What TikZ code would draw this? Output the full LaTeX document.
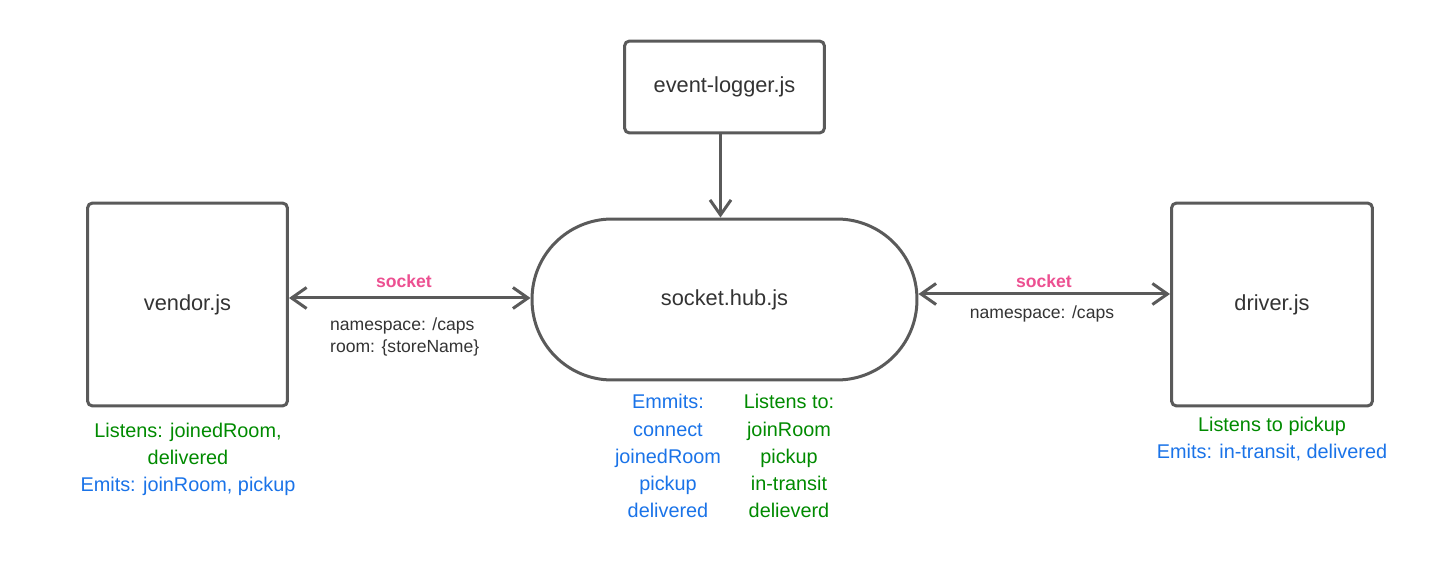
\documentclass[tikz,border=0pt]{standalone}
\usepackage{fontspec}
\setmainfont{Liberation Sans}
\usetikzlibrary{arrows.meta}
\definecolor{edgegray}{RGB}{90,90,90}
\definecolor{txtgray}{RGB}{51,51,51}
\definecolor{sockpink}{RGB}{236,80,145}
\definecolor{lgreen}{RGB}{0,138,0}
\definecolor{eblue}{RGB}{26,115,232}
\tikzset{
	jsfile/.style={draw=edgegray, line width=0.06cm, rounded corners=0.1cm, text=txtgray, font=\fontsize{12.4}{15}\selectfont},
	hubfile/.style={draw=edgegray, line width=0.06cm, rounded corners=1.6cm, text=txtgray, font=\fontsize{12.4}{15}\selectfont, minimum width=7.7cm, minimum height=3.22cm},
	link/.style={draw=edgegray, line width=0.06cm},
	barb/.tip={Straight Barb[length=0.3cm, width=0.42cm]},
	socklbl/.style={text=sockpink, font=\fontsize{10}{12}\selectfont\bfseries},
	nslbl/.style={text=txtgray, font=\fontsize{10}{12.5}\selectfont},
	evlbl/.style={align=center, font=\fontsize{11.3}{15.4}\selectfont}
}

\begin{document}
\begin{tikzpicture}[x=0.02cm, y=-0.02cm]
		%%%%% START %%%%%
		\useasboundingbox (0, 0) rectangle (1441, 577);
		
		\node[jsfile, minimum width=4.0cm, minimum height=1.84cm] (logger) at (724.5, 87) {event-logger.js};
		\node[jsfile, minimum width=4.0cm, minimum height=4.06cm] (vendor) at (187.5, 304.5) {vendor.js};
		\node[jsfile, minimum width=4.02cm, minimum height=4.06cm] (driver) at (1272, 304.5) {driver.js};
		\node[hubfile] (hub) at (724.5, 299.5) {socket.hub.js};
		
		\draw[link, -barb] ([xshift=-0.08cm]logger.south) -- ([xshift=-0.08cm]hub.north);
		\draw[link, barb-barb] ([yshift=0.03cm]vendor.east |- hub.west) -- ([yshift=0.03cm]hub.west);
		\draw[link, barb-barb] ([yshift=0.11cm]hub.east) -- ([yshift=0.11cm]hub.east -| driver.west);
		
		\node[socklbl] (sockl) at (404, 281) {socket};
		\node[nslbl, align=left, anchor=west] (nsl) at (324, 337) {namespace: /caps\\room: \{storeName\}};
		\node[socklbl] (sockr) at (1044, 281) {socket};
		\node[nslbl] (nsr) at (1042, 314) {namespace: /caps};
		
		\node[evlbl] (vendorev) at (188, 459) {\textcolor{lgreen}{Listens: joinedRoom,}\\\textcolor{lgreen}{delivered}\\\textcolor{eblue}{Emits: joinRoom, pickup}};
		\node[evlbl, text=eblue] (hubemits) at (668, 456) {Emmits:\\connect\\joinedRoom\\pickup\\delivered};
		\node[evlbl, text=lgreen] (hublistens) at (789, 456) {Listens to:\\joinRoom\\pickup\\in-transit\\delieverd};
		\node[evlbl] (driverev) at (1272, 439) {\textcolor{lgreen}{Listens to pickup}\\\textcolor{eblue}{Emits: in-transit, delivered}};
		
		%%%%% END %%%%%
	\end{tikzpicture}
\end{document}
